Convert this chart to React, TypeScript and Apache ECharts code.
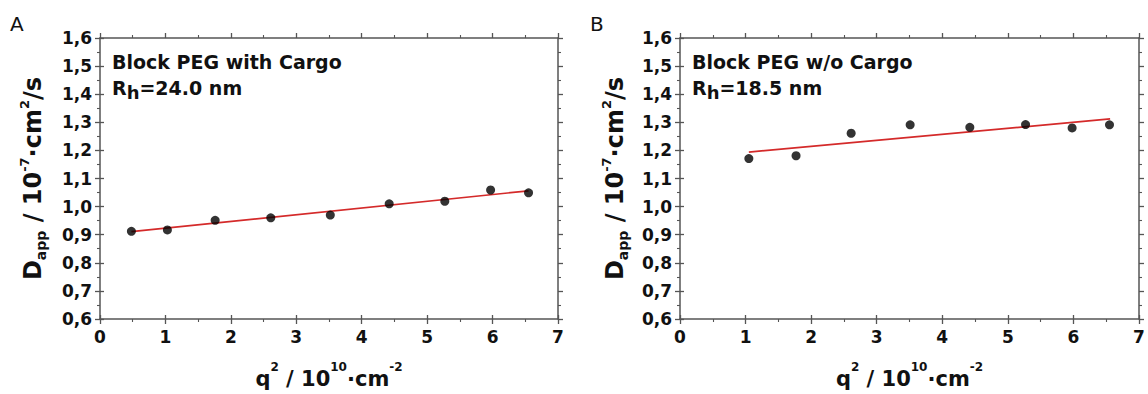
import React, { useEffect, useRef } from "react";
import * as echarts from "echarts";

// Panel A: Block PEG with Cargo
const panelA_q2 = [0.48, 1.03, 1.76, 2.61, 3.52, 4.42, 5.27, 5.97, 6.55];
const panelA_D = [0.912, 0.917, 0.951, 0.96, 0.97, 1.01, 1.019, 1.059, 1.049];
const panelA_fitQ2 = [0.48, 6.55];
const panelA_fitD = [0.911, 1.056];

// Panel B: Block PEG w/o Cargo
const panelB_q2 = [1.05, 1.77, 2.61, 3.51, 4.42, 5.27, 5.98, 6.55];
const panelB_D = [1.171, 1.181, 1.261, 1.291, 1.282, 1.292, 1.28, 1.291];
const panelB_fitQ2 = [1.05, 6.56];
const panelB_fitD = [1.194, 1.312];

const panelLabels = ["A", "B"];
const panelTitles = ["Block PEG with Cargo", "Block PEG w/o Cargo"];
const panelRh = ["24.0", "18.5"];

const FONT = "DejaVu Sans";
const AXIS_COLOR = "#555555";
const TEXT_COLOR = "#111111";

const zip = (xs: number[], ys: number[]) => xs.map((x, i) => [x, ys[i]]);

export default function App() {
  const ref = useRef<HTMLDivElement>(null);
  useEffect(() => {
    if (!ref.current) return;
    const chart = echarts.init(ref.current, undefined, { renderer: "svg" });

    const grids = [
      { left: 100, top: 38, width: 458, height: 285 },
      { left: 680, top: 38, width: 459, height: 285 },
    ];

    const axisLine = { show: true, onZero: false, lineStyle: { color: AXIS_COLOR, width: 1.5 } };
    const axisTick = { show: true, inside: false, length: 5, lineStyle: { color: AXIS_COLOR, width: 1.3 } };
    const innerTick = { show: true, inside: true, length: 4, lineStyle: { color: AXIS_COLOR, width: 1.3 } };
    const minorTick = { show: true, splitNumber: 2, length: 3, lineStyle: { color: AXIS_COLOR, width: 1.1 } };
    const labelStyle = { color: TEXT_COLOR, fontFamily: FONT, fontWeight: "bold" as const, fontSize: 17 };

    const xName = "{b|q}{sup|2}{b| / 10}{sup|10}{b|·cm}{sup|-2}";
    const yName = "{b|D}{sub|app}{b| / 10}{sup|-7}{b|·cm}{sup|2}{b|/s}";

    const xRich = {
      b: { fontFamily: FONT, fontWeight: "bold", fontSize: 21, color: TEXT_COLOR, lineHeight: 28, verticalAlign: "bottom" },
      sup: { fontFamily: FONT, fontWeight: "bold", fontSize: 12, color: TEXT_COLOR, lineHeight: 28, verticalAlign: "top" },
    };
    const yRich = {
      b: { fontFamily: FONT, fontWeight: "bold", fontSize: 24, color: TEXT_COLOR, lineHeight: 30, verticalAlign: "middle" },
      sup: { fontFamily: FONT, fontWeight: "bold", fontSize: 13, color: TEXT_COLOR, lineHeight: 30, verticalAlign: "top" },
      sub: { fontFamily: FONT, fontWeight: "bold", fontSize: 14, color: TEXT_COLOR, lineHeight: 30, verticalAlign: "bottom" },
    };

    const xAxis: any[] = [];
    const yAxis: any[] = [];
    const yFmt = (v: number) => v.toFixed(1).replace(".", ",");
    grids.forEach((_, gi) => {
      xAxis.push({
        type: "value", gridIndex: gi, position: "bottom", min: 0, max: 7, interval: 1,
        axisLine, axisTick, minorTick, splitLine: { show: false },
        axisLabel: { ...labelStyle, margin: 9 },
        name: xName, nameLocation: "middle", nameGap: 42,
        nameTextStyle: { rich: xRich },
      });
      xAxis.push({
        type: "value", gridIndex: gi, position: "top", min: 0, max: 7, interval: 1,
        axisLine, axisTick, minorTick, splitLine: { show: false },
        axisLabel: { show: false },
      });
      // inner half of crossing major ticks on the bottom axis
      xAxis.push({
        type: "value", gridIndex: gi, position: "bottom", min: 0, max: 7, interval: 1,
        axisLine: { show: false }, axisTick: innerTick, splitLine: { show: false },
        axisLabel: { show: false },
      });
      yAxis.push({
        type: "value", gridIndex: gi, position: "left", min: 0.6, max: 1.6, interval: 0.1,
        axisLine, axisTick, minorTick, splitLine: { show: false },
        axisLabel: { ...labelStyle, margin: 8, formatter: yFmt },
        name: yName, nameLocation: "middle", nameRotate: 90, nameGap: gi === 0 ? 52 : 50,
        nameTextStyle: { rich: yRich },
      });
      yAxis.push({
        type: "value", gridIndex: gi, position: "right", min: 0.6, max: 1.6, interval: 0.1,
        axisLine, axisTick, minorTick, splitLine: { show: false },
        axisLabel: { show: false },
      });
      // inner half of crossing major ticks on the left axis
      yAxis.push({
        type: "value", gridIndex: gi, position: "left", min: 0.6, max: 1.6, interval: 0.1,
        axisLine: { show: false }, axisTick: innerTick, splitLine: { show: false },
        axisLabel: { show: false },
      });
    });

    const scatterData = [zip(panelA_q2, panelA_D), zip(panelB_q2, panelB_D)];
    const fitData = [zip(panelA_fitQ2, panelA_fitD), zip(panelB_fitQ2, panelB_fitD)];

    const series: any[] = [];
    grids.forEach((_, gi) => {
      series.push({
        type: "line", xAxisIndex: gi * 3, yAxisIndex: gi * 3, data: fitData[gi],
        showSymbol: false, symbol: "none", lineStyle: { color: "#d42a2a", width: 1.7 }, z: 2,
      });
      series.push({
        type: "scatter", xAxisIndex: gi * 3, yAxisIndex: gi * 3, data: scatterData[gi],
        symbol: "circle", symbolSize: 9, itemStyle: { color: "#000000" }, z: 3,
      });
    });

    const graphic: any[] = [];
    const labelX = [10, 590];
    grids.forEach((g, gi) => {
      graphic.push({
        type: "text", x: labelX[gi], y: 24,
        style: { text: panelLabels[gi], fontFamily: FONT, fontSize: 20, fill: "#111", verticalAlign: "middle" },
      });
      graphic.push({
        type: "text", x: g.left + 12, y: 62,
        style: { text: panelTitles[gi], fontFamily: FONT, fontWeight: "bold", fontSize: 19, fill: TEXT_COLOR, verticalAlign: "middle" },
      });
      graphic.push({
        type: "text", x: g.left + 12, y: 88,
        style: {
          text: "{b|R}{sub|h}{b|=" + panelRh[gi] + " nm}",
          verticalAlign: "middle",
          rich: {
            b: { fontFamily: FONT, fontWeight: "bold", fontSize: 19, fill: TEXT_COLOR, lineHeight: 26, verticalAlign: "middle" },
            sub: { fontFamily: FONT, fontWeight: "bold", fontSize: 18, fill: TEXT_COLOR, lineHeight: 26, verticalAlign: "bottom", padding: [10, 0, 0, 0] },
          },
        },
      });
    });

    chart.setOption({
      animation: false,
      backgroundColor: "#ffffff",
      grid: grids,
      xAxis,
      yAxis,
      series,
      graphic,
    });
    return () => chart.dispose();
  }, []);

  return <div ref={ref} style={{ position: "absolute", left: 0, top: 0, width: 1148, height: 394 }} />;
}
